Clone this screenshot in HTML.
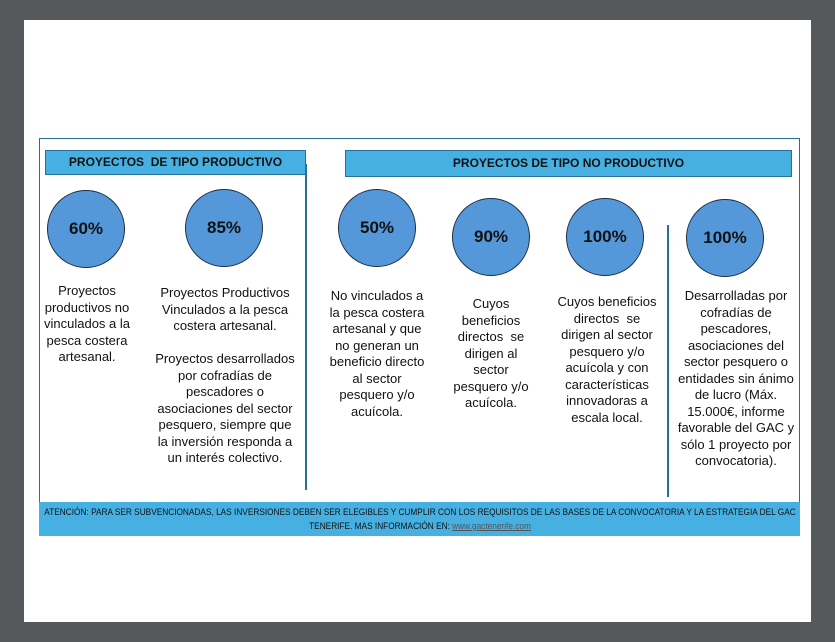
<!DOCTYPE html>
<html><head><style>
body{margin:0;width:835px;height:642px;background:#56595c;position:relative;overflow:hidden;font-family:"Liberation Sans",sans-serif;}
.page{position:absolute;left:24px;top:20px;width:787px;height:602px;background:#fff;}
.frame{position:absolute;left:39px;top:138px;width:761px;height:398px;border:1.5px solid #2a6f97;box-sizing:border-box;}
.hdr{position:absolute;background:#47b0e3;border:1px solid #2a6f97;box-sizing:border-box;font-weight:bold;font-size:12px;text-align:center;color:#111;}
.c{position:absolute;width:78px;height:78px;border-radius:50%;background:#5598da;border:1.5px solid #1d2f45;box-sizing:border-box;display:flex;align-items:center;justify-content:center;font-weight:bold;font-size:17px;color:#111;}
.t{position:absolute;font-size:13px;line-height:16.5px;text-align:center;color:#111;}
.v{position:absolute;width:1.5px;background:#2a6f97;}
.foot{position:absolute;left:39px;top:502px;width:761px;height:34px;background:#47b0e3;font-size:9px;color:#111;white-space:nowrap;overflow:hidden;}
.foot .l{position:absolute;left:50%;transform:translateX(-50%) scaleX(0.92);line-height:14px;}
</style></head><body>
<div class="page"></div>
<div class="frame"></div>
<div class="hdr" style="left:45px;top:150px;width:261px;height:25px;line-height:23px;">PROYECTOS &nbsp;DE TIPO PRODUCTIVO</div>
<div class="hdr" style="left:345px;top:150px;width:447px;height:27px;line-height:25px;">PROYECTOS DE TIPO NO PRODUCTIVO</div>
<div class="v" style="left:305px;top:164px;height:326px"></div>
<div class="v" style="left:667px;top:225px;height:272px"></div>
<div class="c" style="left:47px;top:190px">60%</div>
<div class="c" style="left:185px;top:189px">85%</div>
<div class="c" style="left:338px;top:189px">50%</div>
<div class="c" style="left:452px;top:198px">90%</div>
<div class="c" style="left:566px;top:198px">100%</div>
<div class="c" style="left:686px;top:199px">100%</div>
<div class="t" style="left:38px;top:283px;width:98px">Proyectos productivos no vinculados a la pesca costera artesanal.</div>
<div class="t" style="left:152px;top:285px;width:146px">Proyectos Productivos Vinculados a la pesca costera artesanal.<br><br>Proyectos desarrollados por cofradías de pescadores o asociaciones del sector pesquero, siempre que la inversión responda a un interés colectivo.</div>
<div class="t" style="left:328px;top:288px;width:98px">No vinculados a la pesca costera artesanal y que no generan un beneficio directo al sector pesquero y/o acuícola.</div>
<div class="t" style="left:450px;top:296px;width:82px">Cuyos beneficios directos &nbsp;se dirigen al sector pesquero y/o acuícola.</div>
<div class="t" style="left:557px;top:294px;width:100px">Cuyos beneficios directos &nbsp;se dirigen al sector pesquero y/o acuícola y con características innovadoras a escala local.</div>
<div class="t" style="left:677px;top:288px;width:118px">Desarrolladas por cofradías de pescadores, asociaciones del sector pesquero o entidades sin ánimo de lucro (Máx. 15.000€, informe favorable del GAC y sólo 1 proyecto por convocatoria).</div>
<div class="foot"><div class="l" style="top:3px">ATENCIÓN: PARA SER SUBVENCIONADAS, LAS INVERSIONES DEBEN SER ELEGIBLES Y CUMPLIR CON LOS REQUISITOS DE LAS BASES DE LA CONVOCATORIA Y LA ESTRATEGIA DEL GAC</div><div class="l" style="top:17px">TENERIFE. MAS INFORMACIÓN EN: <span style="color:#555;text-decoration:underline">www.gactenerife.com</span></div></div>
</body></html>
